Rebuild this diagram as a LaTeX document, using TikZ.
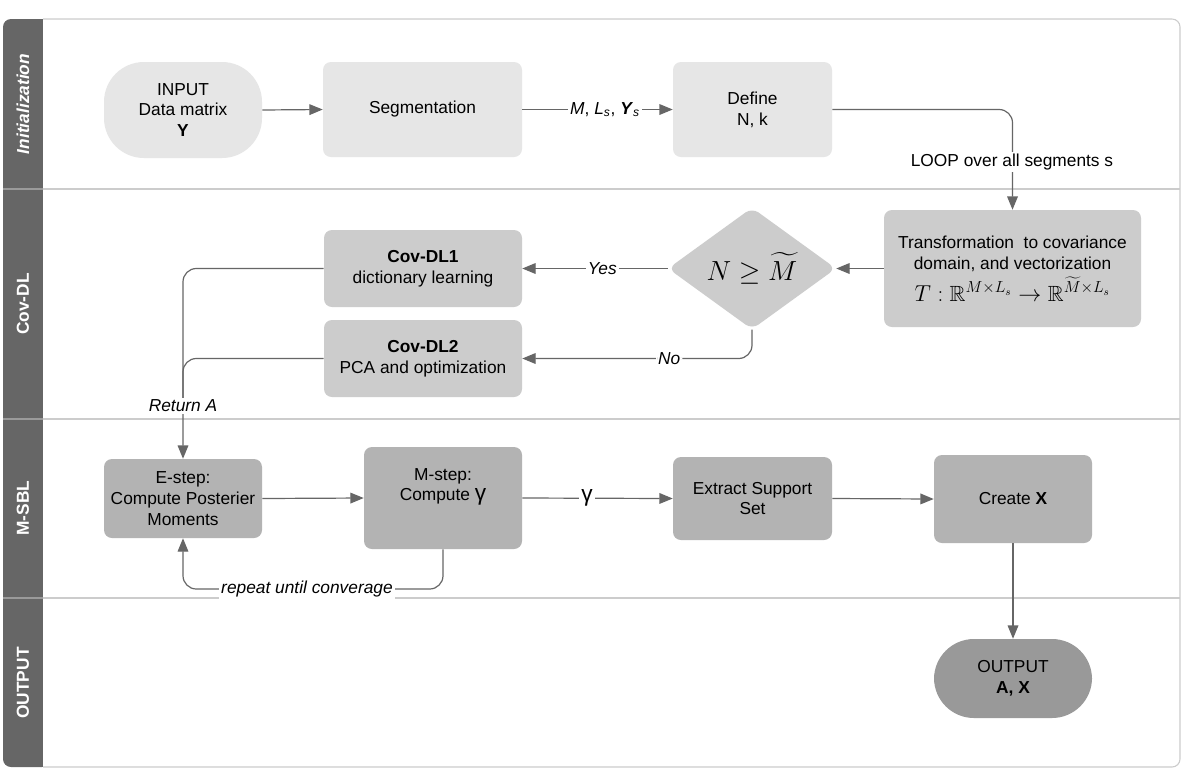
\documentclass[tikz,border=0pt]{standalone}
\usepackage{fontspec}
\usepackage{amsmath,amssymb}
\setmainfont{Liberation Sans}
\usetikzlibrary{arrows.meta,shapes.geometric}
\definecolor{cLight}{HTML}{E6E6E6}
\definecolor{cMid}{HTML}{CCCCCC}
\definecolor{cDark}{HTML}{B3B3B3}
\definecolor{cOut}{HTML}{999999}
\definecolor{cHead}{HTML}{666666}
\definecolor{cLine}{HTML}{666666}
\definecolor{cLane}{HTML}{CCCCCC}
\definecolor{cHeadSep}{HTML}{9A9A9A}
\begin{document}
\begin{tikzpicture}[x=0.75pt,y=-0.75pt,
  font=\fontsize{13}{15.5}\selectfont,
  box/.style={draw=none, rounded corners=6pt, align=center, inner sep=2pt},
  stadium/.style={draw=none, rounded corners=30pt, align=center, inner sep=2pt},
  conn/.style={draw=cLine, line width=0.9pt, -{Triangle[length=10pt,width=8pt]}},
  ln/.style={draw=cLine, line width=0.9pt},
  lbl/.style={fill=white, inner sep=1.5pt, font=\fontsize{13}{15.5}\selectfont\itshape},
  lane/.style={text=white, font=\fontsize{13}{15}\selectfont\bfseries, rotate=90}]
\useasboundingbox (0,0) rectangle (1181,783);
% frame
\fill[cHead, rounded corners=6pt] (3,19) rectangle (50,767);
\draw[cLane, line width=0.8pt, fill=white, rounded corners=6pt] (43,19) -- (1180,19) -- (1180,767) -- (43,767);
\foreach \yy in {189,419,598} {
  \draw[cLane, line width=0.8pt] (43,\yy) -- (1180,\yy);
  \draw[cHeadSep, line width=0.8pt] (3,\yy) -- (43,\yy);
}
% lane labels
\node[lane] (l1) at (23,104) {\itshape Initialization};
\node[lane] (l2) at (23,304) {Cov-DL};
\node[lane] (l3) at (23,508) {M-SBL};
\node[lane] (l4) at (23,683) {OUTPUT};
% nodes
\node[stadium, fill=cLight, minimum width=118.5pt, minimum height=72pt] (inp) at (183,110) {INPUT\\Data matrix\\\textbf{Y}};
\node[box, fill=cLight, minimum width=149.25pt, minimum height=71.25pt] (seg) at (422.5,109.5) {Segmentation};
\node[box, fill=cLight, minimum width=119.25pt, minimum height=71.25pt] (def) at (752.5,109.5) {Define\\N, k};
\node[box, fill=cMid, minimum width=192.75pt, minimum height=87.75pt] (trans) at (1012.5,268.5) {Transformation\ \ to covariance\\domain, and vectorization\\[3pt]{\fontsize{16.5}{18}\selectfont$T:\mathbb{R}^{M\times L_s}\rightarrow\mathbb{R}^{\widetilde{M}\times L_s}$}};
\node[diamond, fill=cMid, rounded corners=6pt, inner sep=0pt, minimum width=126pt, minimum height=84.75pt] (dia) at (752,268.5) {\fontsize{20}{22}\selectfont$N\geq\widetilde{M}$};
\node[box, fill=cMid, minimum width=148.5pt, minimum height=57.75pt] (dl1) at (423,268.5) {\textbf{Cov-DL1}\\dictionary learning};
\node[box, fill=cMid, minimum width=148.5pt, minimum height=57.75pt] (dl2) at (423,358.5) {\textbf{Cov-DL2}\\PCA and optimization};
\node[box, fill=cDark, minimum width=118.5pt, minimum height=59.25pt] (est) at (183,498.5) {E-step:\\Compute Posterier\\Moments};
\node[box, fill=cDark, minimum width=118.5pt, minimum height=76.5pt] (mst) at (443,498) {M-step:\\Compute {\fontsize{17}{15.5}\selectfont γ}\\\strut};
\node[box, fill=cDark, minimum width=119.25pt, minimum height=62.25pt] (ext) at (752.5,498.5) {Extract Support\\Set};
\node[box, fill=cDark, minimum width=118.5pt, minimum height=66pt] (crt) at (1013,499) {Create \textbf{X}};
\node[stadium, fill=cOut, minimum width=118.5pt, minimum height=59.25pt] (out) at (1013,678.5) {OUTPUT\\\textbf{A, X}};
% connectors
\draw[conn] (inp.east) -- (seg.west);
\draw[conn] (seg.east) -- (def.west) node[pos=0.55, fill=white, inner sep=1.5pt] (lab1) {\textit{M}, \textit{L}\textsubscript{\textit{s}}, \textbf{\textit{Y}}\textsubscript{\textit{s}}};
\draw[conn, rounded corners=10pt] (def.east) -| (trans.north);
\node[fill=white, inner sep=1.5pt] (loop) at (1012,162) {LOOP over all segments s};
\draw[conn] (trans.west) -- (dia.east);
\draw[conn] (dia.west) -- (dl1.east) node[pos=0.45, lbl] (yes) {Yes};
\draw[conn, rounded corners=10pt] (dia.south) |- (dl2.east) node[pos=0.68, lbl] (no) {No};
\draw[conn, rounded corners=10pt] (dl1.west) -| (est.north);
\draw[ln, rounded corners=10pt] (dl2.west) -| (183,400);
\node[lbl] (ret) at (183,406) {Return A};
\draw[conn] (est.east) -- (mst.west);
\draw[conn] (mst.east) -- (ext.west) node[pos=0.43, fill=white, inner sep=1.5pt] (gam) {\fontsize{17}{17}\selectfont γ};
\draw[conn] (ext.east) -- (crt.west);
\draw[conn] (crt.south) -- (out.north);
\draw[conn, rounded corners=10pt] (mst.south) -- (443,589) -| (est.south);
\node[lbl] (rep) at (307,589) {repeat until converage};
\end{tikzpicture}
\end{document}
